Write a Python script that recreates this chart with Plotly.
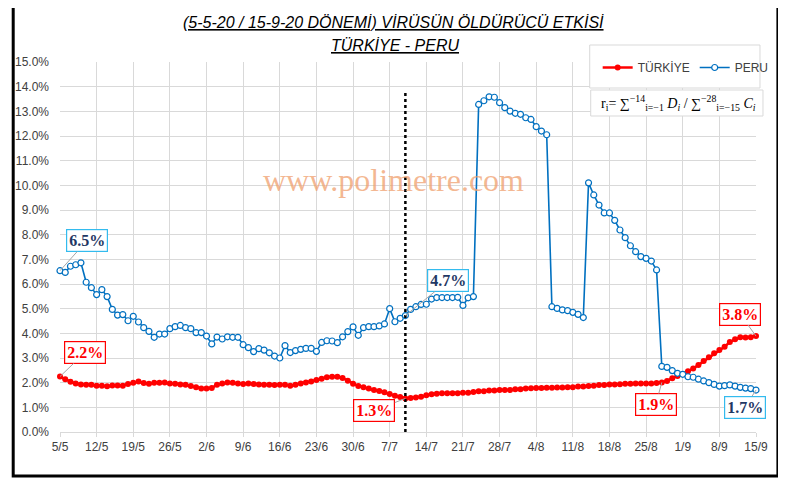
import pandas as pd
import plotly.graph_objects as go

# daily values, 5 May 2020 .. 15 Sep 2020 (percent)
dates = pd.date_range("2020-05-05", "2020-09-15", freq="D")

turkiye = [
    2.25, 2.14, 2.04, 1.97, 1.93, 1.92, 1.92, 1.88, 1.88, 1.85,
    1.89, 1.89, 1.88, 1.95, 2.00, 2.05, 1.99, 1.96, 2.00, 2.00,
    2.01, 1.97, 1.96, 1.93, 1.92, 1.86, 1.81, 1.76, 1.76, 1.78,
    1.92, 1.97, 2.01, 2.00, 1.97, 1.95, 1.97, 1.95, 1.93, 1.92,
    1.92, 1.91, 1.92, 1.92, 1.88, 1.92, 1.97, 2.01, 2.05, 2.11,
    2.16, 2.22, 2.24, 2.24, 2.19, 2.08, 1.96, 1.86, 1.81, 1.76,
    1.70, 1.66, 1.61, 1.54, 1.47, 1.42, 1.36, 1.38, 1.40, 1.43,
    1.49, 1.53, 1.55, 1.57, 1.57, 1.57, 1.57, 1.59, 1.59, 1.62,
    1.65, 1.65, 1.68, 1.68, 1.70, 1.70, 1.70, 1.73, 1.73, 1.76,
    1.77, 1.78, 1.78, 1.79, 1.79, 1.80, 1.80, 1.81, 1.81, 1.84,
    1.84, 1.86, 1.88, 1.91, 1.91, 1.93, 1.93, 1.94, 1.96, 1.96,
    1.97, 1.97, 1.97, 1.97, 1.99, 2.01, 2.07, 2.18, 2.27, 2.35,
    2.46, 2.57, 2.72, 2.88, 3.03, 3.19, 3.32, 3.46, 3.65, 3.76,
    3.84, 3.83, 3.84, 3.89,
]

peru = [
    6.54, 6.47, 6.72, 6.78, 6.86, 6.07, 5.85, 5.57, 5.77, 5.49,
    4.97, 4.74, 4.76, 4.51, 4.69, 4.46, 4.23, 4.08, 3.84, 3.97,
    3.97, 4.19, 4.27, 4.32, 4.23, 4.19, 4.03, 4.03, 3.89, 3.57,
    3.85, 3.77, 3.86, 3.84, 3.84, 3.54, 3.42, 3.26, 3.38, 3.32,
    3.21, 3.08, 3.00, 3.50, 3.22, 3.30, 3.35, 3.39, 3.39, 3.27,
    3.63, 3.70, 3.69, 3.62, 3.86, 4.07, 4.26, 3.92, 4.23, 4.27,
    4.27, 4.30, 4.38, 5.00, 4.47, 4.61, 4.72, 4.97, 5.08, 5.17,
    5.18, 5.39, 5.45, 5.45, 5.45, 5.45, 5.46, 5.13, 5.44, 5.49,
    13.28, 13.43, 13.59, 13.57, 13.35, 13.15, 13.01, 12.92, 12.88, 12.74,
    12.67, 12.38, 12.20, 12.05, 5.08, 5.01, 4.95, 4.92, 4.85, 4.77,
    4.64, 10.10, 9.61, 9.20, 8.88, 8.88, 8.58, 8.19, 7.88, 7.55,
    7.31, 7.11, 7.04, 6.93, 6.57, 2.66, 2.62, 2.49, 2.38, 2.34,
    2.24, 2.22, 2.14, 2.07, 2.00, 1.93, 1.86, 1.88, 1.91, 1.86,
    1.81, 1.78, 1.76, 1.70,
]

tick_dates = pd.date_range("2020-05-05", "2020-09-15", freq="7D")
tick_labels = ["5/5", "12/5", "19/5", "26/5", "2/6", "9/6", "16/6", "23/6",
               "30/6", "7/7", "14/7", "21/7", "28/7", "4/8", "11/8", "18/8",
               "25/8", "1/9", "8/9", "15/9"]

split_date = "2020-07-10"

# (day index, series, text, dx, dy)
callouts = [
    (0, "peru", "6.5%", 27, -30),
    (0, "tr", "2.2%", 25, -24),
    (66, "peru", "4.7%", 43, -35),
    (66, "tr", "1.3%", -31, 12),
    (115, "tr", "1.9%", -6, 22),
    (133, "tr", "3.8%", -16, -22),
    (133, "peru", "1.7%", -11, 17),
]

RED = "#ff0000"
BLUE = "#0070c0"
GRID = "#d9d9d9"

# page has an 8px body margin, so the figure is drawn 8px in from the window corner
OFF = 8
W, H = 786 - OFF, 482 - OFF

# plot area in window pixels: x 60..759, y 62..432
def px(x, y):
    return (x - 60) / 699, (432 - y) / 370

fig = go.Figure()
fig.add_trace(go.Scatter(
    x=dates, y=turkiye, name="TÜRKİYE", mode="lines+markers",
    line=dict(color=RED, width=2.5),
    marker=dict(symbol="circle", size=6, color=RED),
    cliponaxis=False))
fig.add_trace(go.Scatter(
    x=dates, y=peru, name="PERU", mode="lines+markers",
    line=dict(color=BLUE, width=1.6),
    marker=dict(symbol="circle", size=6, color="white",
                line=dict(color=BLUE, width=1.2)),
    cliponaxis=False))

shapes = []
# outer frame
x0, y0 = px(13, 476)
x1, y1 = px(781, 2)
shapes.append(dict(type="rect", xref="paper", yref="paper", x0=x0, y0=y0, x1=x1, y1=y1,
                   line=dict(color="black", width=3), layer="below"))
# split line
shapes.append(dict(type="line", xref="x", yref="y", x0=split_date, x1=split_date,
                   y0=0, y1=13.8, line=dict(color="black", width=2.5, dash="dot")))
# legend box
lx0, ly0 = px(592, 88)
lx1, ly1 = px(763, 45)
shapes.append(dict(type="rect", xref="paper", yref="paper", x0=lx0, y0=ly0, x1=lx1, y1=ly1,
                   fillcolor="white", line=dict(color=GRID, width=1), layer="above"))
# formula box
fx0, fy0 = px(593, 116)
fx1, fy1 = px(766, 90)
shapes.append(dict(type="rect", xref="paper", yref="paper", x0=fx0, y0=fy0, x1=fx1, y1=fy1,
                   fillcolor="white", line=dict(color=GRID, width=1), layer="above"))

annotations = []

def note(x, y, text, font):
    ax_, ay_ = px(x, y)
    annotations.append(dict(xref="paper", yref="paper", x=ax_, y=ay_, showarrow=False,
                            xanchor="center", yanchor="middle", text=text, font=font))

note(395, 22, "<i><u>(5-5-20 / 15-9-20 DÖNEMİ) VİRÜSÜN ÖLDÜRÜCÜ ETKİSİ</u></i>",
     dict(family="Liberation Sans", size=16, color="black"))
note(396, 45, "<i><u>TÜRKİYE - PERU</u></i>",
     dict(family="Liberation Sans", size=16, color="black"))
note(395, 180, "www.polimetre.com",
     dict(family="Liberation Serif", size=32, color="rgba(240,160,110,0.75)"))
note(681, 103, "r<sub>i</sub>= ∑<sup>−14</sup><sub>i=−1</sub> <i>D<sub>i</sub></i> / "
               "∑<sup>−28</sup><sub>i=−15</sub> <i>C<sub>i</sub></i>",
     dict(family="Liberation Serif", size=14, color="black"))

for idx, series, text, ax, ay in callouts:
    if series == "tr":
        yv, fc, bc = turkiye[idx], RED, RED
    else:
        yv, fc, bc = peru[idx], "#1f3864", "#33bbee"
    annotations.append(dict(
        x=dates[idx], y=yv, xref="x", yref="y", text=f"<b>{text}</b>",
        showarrow=True, arrowhead=0, arrowwidth=1, arrowcolor="#a6a6a6",
        ax=ax, ay=ay, bgcolor="white", bordercolor=bc, borderwidth=1.2, borderpad=2,
        font=dict(family="Liberation Serif", size=16, color=fc)))

lgx, lgy = px(600, 53)
fig.update_layout(
    width=W, height=H,
    margin=dict(l=60 - OFF, r=W - (759 - OFF), t=62 - OFF, b=H - (432 - OFF)),
    paper_bgcolor="white", plot_bgcolor="white",
    font=dict(family="Liberation Sans", size=12, color="#595959"),
    showlegend=True,
    legend=dict(orientation="h", x=lgx, y=lgy, xanchor="left", yanchor="top",
                bgcolor="rgba(0,0,0,0)", borderwidth=0,
                font=dict(family="Liberation Sans", size=12, color="#404040")),
    xaxis=dict(range=[dates[0], dates[-1]], tickvals=tick_dates, ticktext=tick_labels,
               showgrid=True, gridcolor=GRID, gridwidth=1,
               showline=True, linecolor=GRID, ticks="outside", ticklen=4, tickcolor=GRID,
               tickfont=dict(size=12, color="#404040"), automargin=False, zeroline=False),
    yaxis=dict(range=[0, 15], dtick=1, tickformat=".1f", ticksuffix="%",
               showgrid=True, gridcolor=GRID, gridwidth=1, zeroline=False,
               showline=False, ticks="", ticklabelstandoff=10,
               tickfont=dict(size=12, color="#404040"), automargin=False),
    shapes=shapes, annotations=annotations,
)

fig.write_html("out.html")
